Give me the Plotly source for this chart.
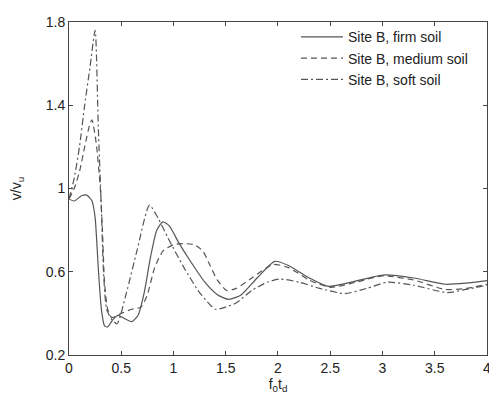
import plotly.graph_objects as go

firm_x = [0, 0.05, 0.12, 0.17, 0.22, 0.25, 0.28, 0.31, 0.34, 0.37, 0.42, 0.47, 0.53, 0.6, 0.66, 0.72, 0.78, 0.84, 0.9, 0.96, 1.05, 1.15, 1.3, 1.42, 1.53, 1.65, 1.8, 1.97, 2.1, 2.3, 2.48, 2.7, 3.02, 3.3, 3.6, 3.8, 4.0]
firm_y = [0.95, 0.94, 0.965, 0.968, 0.94, 0.86, 0.62, 0.42, 0.34, 0.335, 0.37, 0.39, 0.375, 0.36, 0.39, 0.50, 0.67, 0.80, 0.84, 0.82, 0.74, 0.66, 0.55, 0.49, 0.467, 0.49, 0.57, 0.65, 0.63, 0.57, 0.53, 0.55, 0.585, 0.57, 0.54, 0.545, 0.557]

medium_x = [0, 0.05, 0.1, 0.15, 0.2, 0.22, 0.26, 0.3, 0.32, 0.34, 0.37, 0.41, 0.5, 0.6, 0.69, 0.75, 0.82, 0.9, 1.0, 1.1, 1.2, 1.28, 1.35, 1.42, 1.51, 1.6, 1.75, 1.95, 2.1, 2.3, 2.5, 2.75, 3.0, 3.3, 3.6, 3.8, 4.0]
medium_y = [0.95, 1.0, 1.08, 1.2, 1.31, 1.33, 1.22, 1.0, 0.8, 0.55, 0.42, 0.38, 0.40, 0.42, 0.43, 0.49, 0.62, 0.70, 0.73, 0.735, 0.73, 0.70, 0.63, 0.56, 0.51, 0.52, 0.57, 0.635, 0.62, 0.56, 0.525, 0.55, 0.58, 0.56, 0.515, 0.52, 0.54]

soft_x = [0, 0.05, 0.1, 0.15, 0.2, 0.25, 0.28, 0.31, 0.33, 0.36, 0.41, 0.46, 0.55, 0.65, 0.77, 0.85, 0.95, 1.1, 1.25, 1.4, 1.5, 1.6, 1.75, 1.9, 2.02, 2.2, 2.4, 2.64, 2.85, 3.05, 3.3, 3.62, 3.8, 4.0]
soft_y = [0.95, 1.05, 1.2, 1.4, 1.58, 1.76, 1.3, 0.9, 0.6, 0.42, 0.37, 0.35, 0.50, 0.70, 0.92, 0.86, 0.76, 0.62, 0.50, 0.42, 0.43, 0.45, 0.51, 0.55, 0.565, 0.55, 0.52, 0.495, 0.52, 0.55, 0.535, 0.50, 0.515, 0.535]

names = ["Site B, firm soil", "Site B, medium soil", "Site B, soft soil"]

x_ticks = [0, 0.5, 1, 1.5, 2, 2.5, 3, 3.5, 4]
x_labels = ["0", "0.5", "1", "1.5", "2", "2.5", "3", "3.5", "4"]
y_ticks = [0.2, 0.6, 1, 1.4, 1.8]

fig = go.Figure()
fig.add_trace(go.Scatter(x=firm_x, y=firm_y, mode="lines", name=names[0],
                         line=dict(color="#555555", width=1.2, shape="spline", smoothing=0.6)))
fig.add_trace(go.Scatter(x=medium_x, y=medium_y, mode="lines", name=names[1],
                         line=dict(color="#555555", width=1.2, dash="6px,4px", shape="spline", smoothing=0.6)))
fig.add_trace(go.Scatter(x=soft_x, y=soft_y, mode="lines", name=names[2],
                         line=dict(color="#555555", width=1.2, dash="7px,3px,2px,3px", shape="spline", smoothing=0.6)))

axis_common = dict(showline=True, linecolor="#444444", linewidth=1, mirror="ticks",
                   ticks="inside", ticklen=4, tickcolor="#444444", showgrid=False, zeroline=False,
                   tickfont=dict(family="Liberation Sans, Arial", size=14, color="#222222"))

# the page body adds an 8px margin, so the figure is sized to fit inside it
fig.update_layout(
    width=489, height=393,
    margin=dict(l=54, r=6, t=9, b=46),
    paper_bgcolor="white", plot_bgcolor="white",
    font=dict(family="Liberation Sans, Arial", color="#222222"),
    xaxis=dict(range=[0, 4.0005], tickvals=x_ticks, ticktext=x_labels, **axis_common,
               title=dict(text="f<sub>0</sub>t<sub>d</sub>", font=dict(size=14), standoff=0)),
    yaxis=dict(range=[0.2, 1.8], tickvals=y_ticks, **axis_common,
               title=dict(text="v/v<sub>u</sub>", font=dict(size=14), standoff=22)),
    legend=dict(x=0.543, y=1.002, xanchor="left", yanchor="top", bgcolor="rgba(0,0,0,0)",
                font=dict(size=14, family="Liberation Sans, Arial", color="#222222"),
                tracegroupgap=0, itemwidth=42),
    showlegend=True,
)

fig.write_html("out.html")
